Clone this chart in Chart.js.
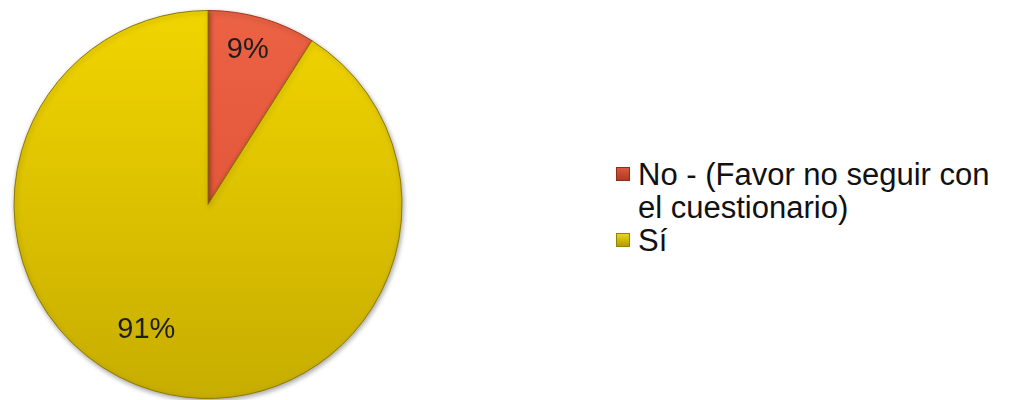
<!DOCTYPE html>
<html>
<head>
<meta charset="utf-8">
<script src="https://cdn.jsdelivr.net/npm/chart.js@4/dist/chart.umd.min.js"></script>
<style>
    html, body { margin: 0; padding: 0; background: #fff; }
    body { width: 1014px; height: 400px; position: relative; overflow: hidden; font-family: "Liberation Sans", Arial, sans-serif; }
    #chart-wrap { position: absolute; left: 0; top: 0; width: 416px; height: 400px; }
    #legend { position: absolute; left: 616px; top: 158px; margin: 0; padding: 0; list-style: none; }
    #legend li { display: flex; align-items: flex-start; font-size: 31px; line-height: 33px; color: #111; }
    #legend .box { flex: none; width: 14px; height: 14px; margin: 9px 8px 0 0; box-sizing: border-box; }
</style>
</head>
<body>
<div id="chart-wrap"><canvas id="pie"></canvas></div>
<ul id="legend"></ul>
<script>
// Data
const categories = [['No - (Favor no seguir con', 'el cuestionario)'], 'Sí'];
const shares = [9, 91];
const pctLabels = ['9%', '91%'];

// Slice colours (top / bottom of the gradient)
const sliceColors = [
    { top: '#EC6244', bottom: '#DA4B30', edge: '#A8341F' },
    { top: '#F1D500', bottom: '#C7AD00', edge: '#8C7900' }
];
const legendBoxes = [
    { fill: 'linear-gradient(#D9583C, #B03A24)', edge: '#8E2C1A' },
    { fill: 'linear-gradient(#EAD420, #B49C00)', edge: '#948200' }
];

function sliceFill(context) {
    const c = sliceColors[context.dataIndex];
    const area = context.chart.chartArea;
    if (!area) return c.top;
    const g = context.chart.ctx.createLinearGradient(0, area.top, 0, area.bottom);
    g.addColorStop(0, c.top);
    g.addColorStop(1, c.bottom);
    return g;
}

// Soft shadow under the pie
const pieShadow = {
    id: 'pieShadow',
    beforeDatasetsDraw(chart) {
        const ctx = chart.ctx;
        ctx.save();
        ctx.shadowColor = 'rgba(0,0,0,0.35)';
        ctx.shadowBlur = 5;
        ctx.shadowOffsetX = 1;
        ctx.shadowOffsetY = 2;
    },
    afterDatasetsDraw(chart) {
        chart.ctx.restore();
    }
};

// Percent labels inside the slices
const pieLabels = {
    id: 'pieLabels',
    afterDatasetsDraw(chart, args, opts) {
        const ctx = chart.ctx;
        const meta = chart.getDatasetMeta(0);
        ctx.save();
        ctx.font = opts.font;
        ctx.fillStyle = opts.color;
        ctx.textAlign = 'center';
        ctx.textBaseline = 'middle';
        meta.data.forEach((arc, i) => {
            const p = arc.getProps(['x', 'y', 'startAngle', 'endAngle', 'outerRadius'], true);
            const mid = (p.startAngle + p.endAngle) / 2 + opts.angleShift[i] * Math.PI / 180;
            const r = p.outerRadius * opts.radial[i];
            ctx.fillText(pctLabels[i], p.x + Math.cos(mid) * r, p.y + Math.sin(mid) * r);
        });
        ctx.restore();
    }
};

const chart = new Chart(document.getElementById('pie'), {
    type: 'pie',
    data: {
        labels: categories,
        datasets: [{
            data: shares,
            backgroundColor: sliceFill,
            borderColor: sliceColors.map(c => c.edge),
            borderWidth: 1
        }]
    },
    options: {
        responsive: true,
        maintainAspectRatio: false,
        animation: false,
        layout: { padding: { top: 10, bottom: 1, left: 0, right: 0 } },
        plugins: {
            legend: { display: false },
            tooltip: { enabled: false },
            pieLabels: {
                font: '29px "Liberation Sans", Arial, sans-serif',
                color: '#1d1d1d',
                radial: [0.82, 0.72],
                angleShift: [-1.7, 10]
            }
        }
    },
    plugins: [pieShadow, pieLabels]
});

// Legend built from the chart's labels
const legendEl = document.getElementById('legend');
chart.data.labels.forEach((label, i) => {
    const li = document.createElement('li');
    const box = document.createElement('span');
    box.className = 'box';
    box.style.background = legendBoxes[i].fill;
    box.style.border = '1px solid ' + legendBoxes[i].edge;
    const text = document.createElement('span');
    text.innerHTML = [].concat(label).join('<br>');
    li.appendChild(box);
    li.appendChild(text);
    legendEl.appendChild(li);
});
</script>
</body>
</html>
